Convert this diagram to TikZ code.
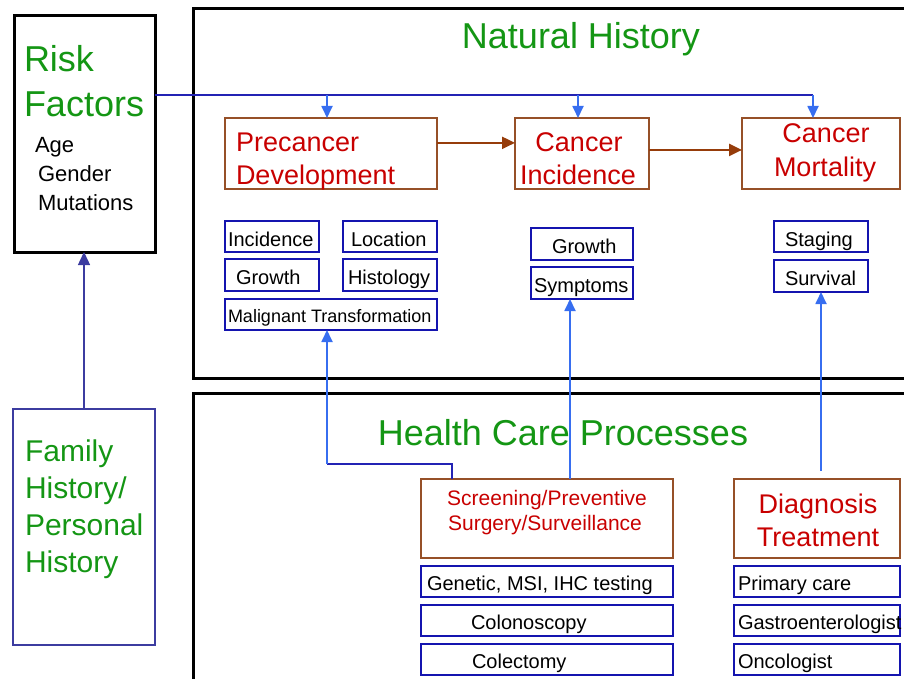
\documentclass[tikz,border=0pt]{standalone}
\usepackage{fontspec}
\setmainfont{Liberation Sans}
\usetikzlibrary{arrows.meta,calc}

\definecolor{ttlgreen}{RGB}{20,150,20}
\definecolor{stagered}{RGB}{200,0,0}
\definecolor{stagebrown}{RGB}{150,80,40}
\definecolor{flowbrown}{RGB}{150,60,10}
\definecolor{itemblue}{RGB}{20,20,175}
\definecolor{famblue}{RGB}{60,60,160}
\definecolor{linkdark}{RGB}{35,35,180}
\definecolor{linklight}{RGB}{55,110,240}

\newcommand\fsz[1]{\fontsize{#1}{#1}\selectfont}
% box given by its corner coordinates: style, name, x1, y1, x2, y2
\newcommand\cornerbox[6]{%
  \node[#1, minimum width={(#5)-(#3)}, minimum height={(#6)-(#4)}]
    (#2) at ({((#3)+(#5))/2},{((#4)+(#6))/2}) {};}

\tikzset{
  boxbase/.style={rectangle, inner sep=0pt, outer sep=0pt},
  frame/.style={boxbase, draw=black, line width=3pt},
  famframe/.style={boxbase, draw=famblue, line width=2pt},
  stagebox/.style={boxbase, draw=stagebrown, line width=2pt},
  itembox/.style={boxbase, draw=itemblue, line width=2pt},
  lbl/.style={inner sep=0pt, outer sep=0pt, anchor=base west},
  clbl/.style={inner sep=0pt, outer sep=0pt, anchor=base},
  bigtitle/.style={text=ttlgreen, font=\fsz{36}},
  famtext/.style={lbl, text=ttlgreen, font=\fsz{30}},
  stagetext/.style={clbl, text=stagered, font=\fsz{27}},
  itemtext/.style={lbl, text=black, font=\fsz{20}},
  feed/.style={draw=linklight, line width=1.8pt, -{Triangle[length=12pt,width=11pt]}},
  feedline/.style={draw=linkdark, line width=1.8pt},
  flow/.style={draw=flowbrown, line width=2.2pt, -{Triangle[length=13pt,width=12pt]}},
  famlink/.style={draw=famblue, line width=1.4pt, -{Triangle[length=13pt,width=12pt]}}
}

\begin{document}
\begin{tikzpicture}[x=1pt, y=-1pt]
\useasboundingbox (0,0) rectangle (904,679);
\clip (0,0) rectangle (904,679);

% outer frames
\cornerbox{frame}{nh}{193}{9}{925}{378}
\cornerbox{frame}{hc}{193}{393}{925}{700}
\cornerbox{frame}{risk}{14}{16}{155}{252}
\cornerbox{famframe}{fam}{13}{409}{155}{645}

% headings
\node[clbl, bigtitle] (nhtitle) at (581,49) {Natural History};
\node[clbl, bigtitle] (hctitle) at (563,445) {Health Care Processes};

% risk factors
\node[lbl, bigtitle] (riskA) at (24,72) {Risk};
\node[lbl, bigtitle] (riskB) at (24,117) {Factors};
\node[lbl, font=\fsz{22}] (rfage) at (35,153) {Age};
\node[lbl, font=\fsz{22}] (rfgender) at (38,182) {Gender};
\node[lbl, font=\fsz{22}] (rfmut) at (38,210) {Mutations};

% family / personal history
\node[famtext] (famA) at (25,461) {Family};
\node[famtext] (famB) at (25,498) {History/};
\node[famtext] (famC) at (25,535) {Personal};
\node[famtext] (famD) at (25,572) {History};

% natural history stages
\cornerbox{stagebox}{pre}{225}{118}{437}{189}
\cornerbox{stagebox}{inc}{515}{118}{649}{189}
\cornerbox{stagebox}{mort}{742}{118}{900}{189}
\node[lbl, text=stagered, font=\fsz{27}] (preA) at (236,152) {Precancer};
\node[lbl, text=stagered, font=\fsz{27}] (preB) at (236,185) {Development};
\node[stagetext] (incA) at (579,152) {Cancer};
\node[stagetext] (incB) at (578,185) {Incidence};
\node[stagetext] (mortA) at (826,143) {Cancer};
\node[stagetext] (mortB) at (825,177) {Mortality};

% precancer attributes
\cornerbox{itembox}{binc}{225}{221}{319}{252}
\cornerbox{itembox}{bloc}{343}{221}{437}{252}
\cornerbox{itembox}{bgro}{225}{259}{319}{291}
\cornerbox{itembox}{bhis}{343}{259}{437}{291}
\cornerbox{itembox}{bmal}{225}{299}{437}{330}
\node[itemtext] (tinc) at (228,246) {Incidence};
\node[itemtext] (tloc) at (351,246) {Location};
\node[itemtext] (tgro) at (236,284) {Growth};
\node[itemtext] (this) at (348,284) {Histology};
\node[itemtext, font=\fsz{18}] (tmal) at (228,322) {Malignant Transformation};

% incidence attributes
\cornerbox{itembox}{bgrow}{531}{228}{633}{260}
\cornerbox{itembox}{bsym}{531}{267}{633}{299}
\node[itemtext] (tgrow) at (552,253) {Growth};
\node[itemtext] (tsym) at (534,292) {Symptoms};

% mortality attributes
\cornerbox{itembox}{bsta}{774}{221}{868}{252}
\cornerbox{itembox}{bsur}{774}{260}{868}{292}
\node[itemtext] (tsta) at (785,246) {Staging};
\node[itemtext] (tsur) at (785,285) {Survival};

% health care processes
\cornerbox{stagebox}{scr}{421}{479}{673}{558}
\cornerbox{stagebox}{dx}{734}{479}{900}{558}
\node[clbl, text=stagered, font=\fsz{21}] (scrA) at (547,505) {Screening/Preventive};
\node[clbl, text=stagered, font=\fsz{21}] (scrB) at (545,530) {Surgery/Surveillance};
\node[stagetext] (dxA) at (818,513) {Diagnosis};
\node[stagetext] (dxB) at (818,546) {Treatment};

\cornerbox{itembox}{bgen}{421}{566}{673}{597}
\cornerbox{itembox}{bcol}{421}{605}{673}{636}
\cornerbox{itembox}{bect}{421}{644}{673}{675}
\node[itemtext] (tgen) at (427,590) {Genetic, MSI, IHC testing};
\node[itemtext] (tcol) at (471,629) {Colonoscopy};
\node[itemtext] (tect) at (472,668) {Colectomy};

\cornerbox{itembox}{bpc}{734}{566}{900}{597}
\cornerbox{itembox}{bgas}{734}{605}{900}{636}
\cornerbox{itembox}{bonc}{734}{644}{900}{675}
\node[itemtext] (tpc) at (738,590) {Primary care};
\node[itemtext] (tgas) at (738,629) {Gastroenterologist};
\node[itemtext] (tonc) at (738,668) {Oncologist};

% risk factors feed every stage
\coordinate (j1) at (327,95);
\coordinate (j2) at (578,95);
\coordinate (j3) at (813,95);
\draw[feedline] (risk.east |- j1) -- (j3);
\draw[feed] (j1) -- (j1 |- pre.north);
\draw[feed] (j2) -- (j2 |- inc.north);
\draw[feed] (j3) -- (j3 |- mort.north);

% progression between stages
\draw[flow] ($(pre.north east)!0.35!(pre.south east)$) -- ($(inc.north west)!0.35!(inc.south west)$);
\draw[flow] ($(inc.north east)!0.45!(inc.south east)$) -- ($(mort.north west)!0.45!(mort.south west)$);

% family history informs risk factors
\draw[famlink] (fam.north) -- (fam.north |- risk.south);

% care processes act on the natural history
\coordinate (s1) at (452,479);
\coordinate (s2) at (452,464);
\coordinate (s3) at (327,464);
\draw[feedline] (s1) -- (s2) -- (s3);
\draw[feed] (s3) -- (s3 |- bmal.south);
\coordinate (s4) at (570,479);
\draw[feed] (s4) -- (s4 |- bsym.south);
\coordinate (d1) at (821,471);
\draw[feed] (d1) -- (d1 |- bsur.south);
\end{tikzpicture}
\end{document}
